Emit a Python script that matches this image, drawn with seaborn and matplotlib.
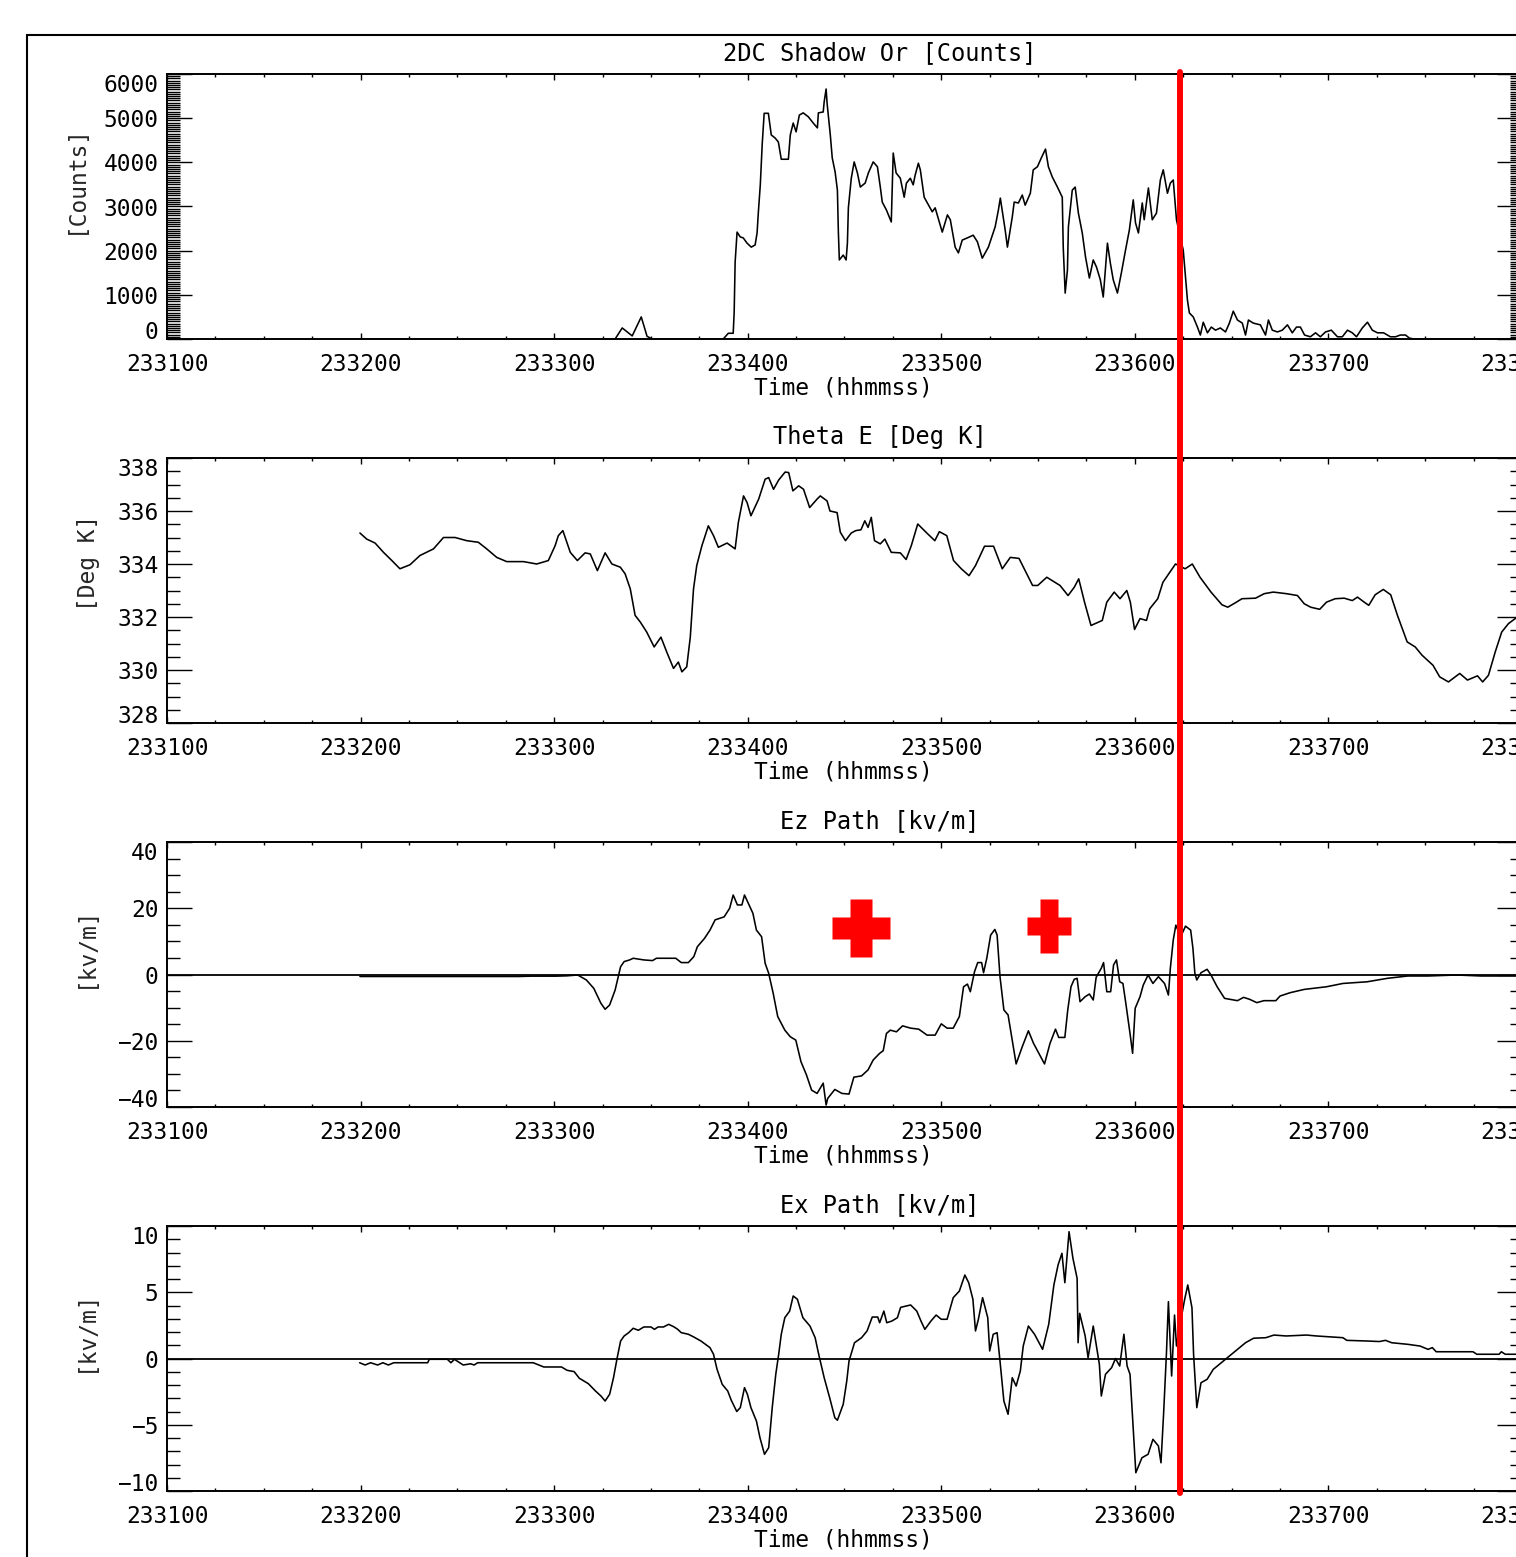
import matplotlib
matplotlib.use("Agg")
import numpy as np
import pandas as pd
import matplotlib.pyplot as plt
import seaborn as sns
from matplotlib.ticker import MultipleLocator, FuncFormatter
from matplotlib.path import Path
from matplotlib.markers import MarkerStyle
from matplotlib.lines import Line2D
from matplotlib.patches import Rectangle

# ---------------- data (time = seconds after 23:31:00) ----------------
t_counts = [60, 135.2, 138.9, 141.1, 144.2, 147.0, 148.8, 150.4, 159.7, 172.4,
            174.0, 175.5, 175.8, 176.1, 176.7, 177.7, 178.6, 179.8, 181.1, 182.3,
            182.9, 183.3, 183.9, 184.5, 185.1, 186.4, 187.3, 188.5, 189.5, 190.4,
            192.6, 193.2, 194.1, 195.0, 196.0, 197.2, 198.8, 200.3, 201.6, 201.9,
            203.4, 203.7, 204.3, 204.6, 205.6, 206.2, 207.1, 207.8, 208.1, 208.4,
            209.6, 210.5, 210.9, 211.2, 212.1, 213.0, 214.0, 214.9, 216.4, 217.4,
            218.9, 220.2, 221.1, 221.7, 223.0, 224.5, 224.8, 225.1, 226.0, 227.3,
            228.5, 229.2, 230.4, 231.3, 231.9, 232.9, 233.5, 234.7, 235.7, 237.2,
            238.1, 240.3, 241.9, 242.8, 244.3, 245.3, 246.5, 248.1, 249.9, 251.2,
            252.7, 254.6, 256.7, 257.7, 258.3, 259.8, 260.5, 262.0, 262.6, 263.9,
            265.1, 266.0, 267.6, 268.5, 269.8, 271.0, 272.3, 273.2, 274.4, 276.0,
            277.5, 277.8, 278.4, 279.1, 279.4, 280.6, 281.5, 282.5, 283.7, 284.7,
            285.9, 287.1, 288.1, 289.3, 290.2, 291.5, 292.4, 293.3, 294.6, 295.8,
            297.1, 298.3, 299.5, 300.2, 301.1, 302.3, 302.9, 304.2, 305.4, 306.7,
            307.9, 308.8, 310.1, 311.0, 311.9, 312.9, 315.0, 315.7, 316.3, 316.9,
            318.1, 319.4, 320.3, 321.2, 322.5, 323.7, 325.0, 326.5, 328.1, 329.3,
            330.5, 331.8, 333.3, 334.3, 335.2, 336.7, 338.9, 340.5, 341.4, 342.6,
            344.2, 345.7, 347.3, 348.8, 350.1, 351.3, 352.6, 354.4, 356.0, 357.5,
            359.1, 360.9, 362.8, 364.3, 365.9, 367.4, 368.7, 370.5, 372.1, 373.6,
            375.2, 377.1, 379.2, 380.8, 382.3, 383.9, 385.1, 386.5, 420]
counts = [0, 0, 0, 250, 70, 500, 60, 0, 0, 0,
          130, 130, 600, 1740, 2420, 2310, 2290, 2170, 2080, 2130,
          2400, 2870, 3490, 4420, 5110, 5110, 4620, 4550, 4460, 4070,
          4070, 4620, 4890, 4690, 5070, 5120, 5030, 4890, 4780, 5120,
          5140, 5370, 5660, 5340, 4620, 4100, 3780, 3370, 2420, 1790,
          1900, 1790, 2170, 2970, 3640, 4010, 3760, 3440, 3530, 3760,
          4010, 3900, 3440, 3100, 2920, 2650, 3420, 4210, 3760, 3640,
          3210, 3530, 3640, 3490, 3710, 3980, 3830, 3210, 3080, 2880,
          2970, 2420, 2810, 2700, 2080, 1950, 2240, 2290, 2350, 2200,
          1830, 2080, 2540, 2920, 3190, 2470, 2080, 2760, 3100, 3080,
          3260, 3030, 3300, 3830, 3900, 4100, 4300, 3900, 3670, 3440,
          3210, 2080, 1040, 1560, 2540, 3370, 3440, 2850, 2400, 1860,
          1380, 1790, 1630, 1340, 950, 2170, 1720, 1340, 1040, 1490,
          2010, 2470, 3150, 2630, 2400, 3080, 2700, 3420, 2700, 2850,
          3600, 3830, 3300, 3530, 3600, 2700, 2010, 1400, 880, 590,
          500, 270, 90, 380, 140, 270, 200, 250, 160, 360,
          630, 430, 360, 90, 430, 360, 320, 90, 430, 200,
          160, 200, 320, 140, 270, 270, 90, 50, 140, 50,
          160, 200, 50, 50, 200, 140, 50, 250, 380, 200,
          140, 140, 50, 50, 90, 90, 20, 0, 0]

t_theta = [59.8, 61.9, 64.5, 67.1, 69.7, 72.2, 75.3, 78.4, 82.6, 85.7,
           89.3, 92.9, 96.5, 99.1, 102.2, 105.3, 110.5, 114.6, 118.2, 120.3,
           121.3, 122.7, 125.0, 127.2, 129.6, 131.2, 133.4, 135.8, 137.9, 140.5,
           142.0, 143.6, 145.1, 146.7, 148.7, 151.0, 153.1, 154.9, 157.0, 158.5,
           159.6, 161.1, 162.2, 163.2, 164.2, 165.8, 167.8, 169.4, 170.9, 173.6,
           176.1, 177.1, 178.7, 179.8, 181.0, 183.4, 185.4, 186.5, 188.0, 189.6,
           191.6, 192.7, 194.0, 195.8, 197.3, 199.2, 201.5, 202.5, 204.6, 205.5,
           207.7, 208.7, 210.3, 212.1, 213.5, 215.1, 216.3, 217.3, 218.3, 219.3,
           221.1, 222.5, 224.5, 227.3, 229.1, 230.7, 232.7, 235.5, 238.0, 239.4,
           241.7, 243.8, 246.2, 248.6, 250.6, 253.4, 256.2, 258.9, 261.4, 264.1,
           266.5, 268.3, 269.9, 272.7, 276.8, 279.3, 281.2, 282.6, 284.4, 286.4,
           289.9, 291.3, 293.6, 295.4, 297.5, 298.6, 299.9, 301.6, 303.6, 304.6,
           307.1, 308.7, 311.2, 312.6, 315.6, 317.8, 320.2, 323.6, 327.0, 328.8,
           331.2, 333.2, 337.4, 340.1, 342.9, 347.0, 350.4, 352.5, 354.5, 357.3,
           359.4, 362.1, 364.9, 367.4, 369.0, 371.1, 372.5, 374.5, 377.0, 379.3,
           381.4, 384.4, 386.9, 389.0, 392.4, 394.5, 397.2, 400.7, 403.1, 406.2,
           407.8, 409.6, 411.7, 413.7, 415.8, 417.9, 420]
theta_e = [335.17, 334.94, 334.79, 334.44, 334.13, 333.82, 333.97, 334.32, 334.57, 335.0,
           335.0, 334.88, 334.82, 334.57, 334.25, 334.09, 334.09, 334.0, 334.13, 334.69,
           335.07, 335.26, 334.44, 334.13, 334.42, 334.38, 333.75, 334.42, 334.0, 333.88,
           333.63, 333.06, 332.06, 331.81, 331.43, 330.87, 331.24, 330.68, 330.06, 330.30,
           329.93, 330.12, 331.24, 333.06, 333.94, 334.69, 335.44, 335.07, 334.63, 334.79,
           334.57, 335.57, 336.57, 336.32, 335.82, 336.45, 337.20, 337.26, 336.82, 337.17,
           337.47, 337.45, 336.76, 336.95, 336.82, 336.13, 336.45, 336.57, 336.38, 336.0,
           335.94, 335.2, 334.88, 335.17, 335.26, 335.29, 335.63, 335.38, 335.76, 334.88,
           334.76, 334.94, 334.44, 334.42, 334.17, 334.69, 335.51, 335.17, 334.88, 335.22,
           335.07, 334.13, 333.82, 333.56, 333.94, 334.67, 334.67, 333.82, 334.25, 334.21,
           333.63, 333.19, 333.19, 333.50, 333.19, 332.81, 333.12, 333.44, 332.56, 331.68,
           331.87, 332.56, 332.94, 332.69, 333.0, 332.56, 331.53, 331.94, 331.87, 332.31,
           332.69, 333.31, 333.75, 334.0, 333.82, 334.0, 333.50, 332.94, 332.46, 332.37,
           332.54, 332.69, 332.71, 332.88, 332.94, 332.88, 332.81, 332.50, 332.37, 332.29,
           332.56, 332.69, 332.71, 332.62, 332.75, 332.56, 332.44, 332.84, 333.04, 332.84,
           332.06, 331.06, 330.87, 330.56, 330.18, 329.74, 329.55, 329.87, 329.62, 329.78,
           329.55, 329.80, 330.68, 331.43, 331.75, 331.94, 332.1]

t_ez = [59.8, 109.0, 112.9, 120.6, 124.0, 127.3, 130.0, 132.3, 134.5, 135.8,
        137.2, 138.9, 140.0, 140.6, 141.7, 143.4, 144.5, 147.8, 150.5, 151.7,
        153.9, 157.7, 159.4, 161.6, 163.3, 164.4, 166.6, 168.3, 169.9, 172.7,
        174.4, 175.5, 176.8, 178.2, 179.0, 180.4, 181.6, 182.7, 184.3, 185.4,
        186.5, 187.9, 189.3, 191.5, 193.2, 194.9, 196.5, 198.2, 199.8, 201.5,
        203.4, 204.3, 204.8, 207.0, 209.2, 211.4, 212.9, 215.3, 217.3, 218.9,
        220.9, 222.0, 223.0, 224.2, 226.1, 228.0, 230.5, 233.0, 235.6, 238.1,
        240.0, 241.8, 243.7, 245.6, 246.9, 248.1, 249.0, 250.3, 251.3, 252.5,
        253.1, 254.1, 255.3, 256.6, 257.3, 258.2, 259.4, 260.7, 262.0, 263.2,
        265.1, 267.0, 268.6, 270.8, 272.0, 273.7, 275.4, 276.4, 278.3, 279.2,
        280.2, 281.2, 282.1, 283.0, 284.6, 285.9, 287.1, 288.0, 289.6, 290.3,
        291.3, 292.5, 293.4, 294.3, 295.3, 296.3, 297.2, 298.5, 299.3, 300.1,
        301.6, 302.6, 304.1, 305.6, 307.3, 309.2, 310.4, 311.0, 311.9, 312.7,
        314.2, 315.7, 317.3, 318.0, 318.6, 319.2, 320.5, 322.4, 323.6, 325.5,
        327.8, 331.8, 333.7, 335.6, 337.8, 340.0, 343.7, 345.0, 348.1, 352.5,
        359.4, 364.5, 372.0, 378.3, 384.6, 390.9, 399.7, 407.3, 420]
ez = [-0.6, -0.6, -0.5, -0.5, -0.4, -0.15, -1.66, -4.2, -8.7, -10.5,
      -9.2, -4.7, -0.15, 2.36, 3.9, 4.4, 4.9, 4.4, 4.2, 4.9,
      4.9, 4.9, 3.6, 3.6, 5.4, 8.4, 10.9, 13.4, 16.5, 17.4,
      20.0, 24.0, 21.0, 21.0, 24.0, 21.0, 18.5, 13.4, 11.4, 3.4,
      0.36, -5.7, -12.7, -16.8, -18.8, -19.8, -26.3, -30.3, -34.9, -35.9,
      -32.8, -39.4, -37.4, -34.7, -35.9, -36.1, -31.0, -30.6, -28.8, -25.8,
      -23.8, -23.0, -17.8, -16.8, -17.3, -15.5, -16.2, -16.5, -18.3, -18.3,
      -14.9, -16.2, -16.2, -12.7, -3.7, -2.9, -5.2, 0.85, 3.6, 3.6,
      0.54, 4.9, 11.9, 13.6, 11.9, -0.66, -10.7, -12.2, -19.8, -27.0,
      -21.8, -17.0, -20.8, -24.8, -27.0, -20.8, -16.5, -19.0, -19.0, -10.7,
      -3.7, -1.45, -1.15, -8.2, -6.7, -5.9, -7.7, -0.85, 1.9, 3.6,
      -5.2, -5.2, 2.9, 4.4, -2.2, -2.7, -8.7, -17.8, -23.8, -10.2,
      -6.7, -3.2, -0.15, -2.7, -0.66, -2.7, -6.2, 1.9, 10.4, 14.9,
      11.4, 14.6, 13.4, 7.9, 0.36, -1.66, 0.54, 1.57, -0.15, -3.7,
      -7.2, -7.9, -6.9, -7.5, -8.5, -7.9, -7.9, -6.5, -5.5, -4.5,
      -3.7, -2.7, -2.2, -1.15, -0.45, -0.45, -0.15, -0.45, -0.45]

t_ex = [59.7, 61.4, 63.1, 65.3, 66.9, 68.6, 70.3, 80.8, 81.3, 86.9,
        88.0, 89.1, 91.8, 94.1, 95.2, 96.3, 113.5, 116.8, 122.3, 124.0,
        126.2, 127.8, 130.6, 132.8, 134.5, 135.8, 137.2, 138.4, 139.5, 140.6,
        141.7, 143.1, 144.5, 146.1, 147.8, 150.0, 151.1, 152.2, 153.9, 155.5,
        157.2, 158.3, 159.4, 161.6, 163.3, 165.5, 168.3, 169.4, 170.5, 172.1,
        173.8, 174.9, 176.6, 177.7, 179.0, 179.9, 181.0, 182.7, 183.8, 185.2,
        186.5, 187.6, 188.7, 189.6, 190.4, 191.5, 193.0, 194.1, 195.4, 197.1,
        199.3, 200.9, 202.0, 203.7, 205.4, 207.0, 207.8, 209.6, 210.7, 211.4,
        213.1, 215.3, 217.0, 218.6, 220.3, 220.9, 222.2, 223.1, 224.7, 226.4,
        227.4, 230.5, 232.4, 233.7, 234.9, 236.8, 238.4, 240.0, 241.8, 243.7,
        245.6, 247.3, 248.5, 249.8, 250.6, 251.5, 252.8, 253.6, 254.4, 255.0,
        256.1, 257.3, 258.2, 259.4, 260.7, 262.0, 263.2, 264.5, 265.4, 267.0,
        268.9, 271.4, 273.3, 274.9, 276.2, 277.4, 278.3, 279.6, 280.8, 282.1,
        282.4, 282.9, 284.6, 285.5, 287.1, 289.0, 289.6, 290.9, 292.8, 294.0,
        295.3, 296.6, 297.6, 298.5, 299.7, 300.3, 302.2, 304.1, 305.6, 307.3,
        308.1, 308.9, 309.8, 310.4, 311.4, 312.3, 312.9, 314.2, 315.4, 316.4,
        317.7, 318.2, 319.2, 320.5, 322.4, 324.3, 326.8, 329.3, 331.8, 334.3,
        336.8, 340.6, 343.1, 346.9, 353.2, 356.3, 364.5, 365.7, 372.0, 375.8,
        377.7, 379.6, 384.6, 388.4, 390.9, 392.2, 393.4, 404.8, 406.0, 412.9,
        413.6, 414.8, 420]
ex = [-0.32, -0.49, -0.32, -0.49, -0.32, -0.49, -0.32, -0.32, -0.06, -0.06,
      -0.32, -0.06, -0.49, -0.4, -0.49, -0.32, -0.32, -0.64, -0.64, -0.89,
      -0.99, -1.49, -1.9, -2.45, -2.83, -3.21, -2.7, -1.45, 0.0, 1.32,
      1.7, 1.95, 2.28, 2.13, 2.38, 2.38, 2.2, 2.38, 2.38, 2.58,
      2.38, 2.2, 1.95, 1.83, 1.62, 1.32, 0.82, 0.32, -0.82, -1.95,
      -2.45, -3.15, -4.0, -3.71, -2.2, -2.7, -3.71, -4.72, -5.98, -7.23,
      -6.73, -3.71, -1.19, 0.32, 1.83, 3.08, 3.58, 4.72, 4.47, 3.08,
      2.45, 1.57, 0.32, -1.45, -2.96, -4.47, -4.66, -3.46, -1.7, -0.19,
      1.19, 1.57, 2.08, 3.13, 3.13, 2.7, 3.58, 2.7, 2.83, 3.08,
      3.86, 4.04, 3.58, 2.83, 2.2, 2.83, 3.28, 2.96, 2.96, 4.59,
      5.09, 6.3, 5.72, 4.47, 2.08, 2.96, 4.59, 3.83, 3.08, 0.57,
      1.83, 1.95, -0.19, -3.21, -4.21, -1.45, -2.08, -0.94, 0.94, 2.45,
      1.83, 0.69, 2.58, 5.55, 7.06, 7.94, 5.72, 9.57, 7.57, 6.05,
      1.19, 3.41, 1.7, 0.06, 2.45, -0.44, -2.83, -1.19, -0.69, 0.0,
      -0.57, 1.83, -0.57, -1.19, -6.23, -8.62, -7.49, -7.23, -6.1, -6.6,
      -7.87, -4.21, 0.44, 4.29, -1.32, 3.28, 0.94, 2.83, 4.42, 5.55,
      3.83, 0.32, -3.71, -1.83, -1.57, -0.82, -0.32, 0.19, 0.69, 1.19,
      1.53, 1.57, 1.77, 1.7, 1.77, 1.7, 1.57, 1.37, 1.32, 1.28,
      1.37, 1.19, 1.07, 0.94, 0.69, 0.82, 0.51, 0.51, 0.32, 0.32,
      0.51, 0.32, 0.32]

titles = ["2DC Shadow Or [Counts]", "Theta E [Deg K]", "Ez Path [kv/m]", "Ex Path [kv/m]"]
ylabels = ["[Counts]", "[Deg K]", "[kv/m]", "[kv/m]"]
yticks_list = [[0, 1000, 2000, 3000, 4000, 5000, 6000],
               [328, 330, 332, 334, 336, 338],
               [-40, -20, 0, 20, 40],
               [-10, -5, 0, 5, 10]]
yminor_list = [50, 0.5, 5, 1]
xtick_seconds = [0, 60, 120, 180, 240, 300, 360, 420]
x_label = "Time (hhmmss)"
marker_time = 314.1                 # red vertical marker (23:36:14)
cross_t = [215.2, 273.5]            # red "+" symbols in Ez panel
cross_v = [13.9, 14.5]

# ---------------- style ----------------
sns.set_theme(style="white")
plt.rcParams['font.family'] = ['DejaVu Sans Mono', 'DejaVu Sans']
plt.rcParams['axes.unicode_minus'] = True

W, H = 1516, 1557
fig = plt.figure(figsize=(W / 100, H / 100), dpi=100)
fig.patch.set_facecolor("white")

left = 167 / W
width = 1355 / W
height = 265 / H
bottoms_px = [339, 723, 1107, 1491]
ylabel_x = [-0.0679, -0.0583, -0.0605, -0.0605]

series = [(t_counts, counts), (t_theta, theta_e), (t_ez, ez), (t_ex, ex)]
FS = 16.5

def fmt_time(v, pos):
    return f"{233100 + int(round(v / 60)) * 100}"

axes = []
for i, (tt, vv) in enumerate(series):
    ax = fig.add_axes([left, 1 - bottoms_px[i] / H, width, height])
    axes.append(ax)
    df = pd.DataFrame({"t": tt, "v": vv})
    if i >= 2:
        ax.axhline(0, color="black", lw=1.3, zorder=1)
    sns.lineplot(data=df, x="t", y="v", ax=ax, color="black", lw=1.15,
                 estimator=None, sort=False, zorder=2)
    ax.set_xlim(0, 420)
    yt = yticks_list[i]
    ax.set_ylim(yt[0], yt[-1])
    ax.set_xticks(xtick_seconds)
    ax.xaxis.set_minor_locator(MultipleLocator(15))
    ax.xaxis.set_major_formatter(FuncFormatter(fmt_time))
    ax.set_yticks(yt)
    ax.yaxis.set_minor_locator(MultipleLocator(yminor_list[i]))
    ax.tick_params(axis="both", which="both", direction="in",
                   top=True, right=True, bottom=True, left=True,
                   labelsize=FS, colors="black", width=1.0)
    ax.tick_params(axis="x", which="major", length=4.5, pad=10)
    ax.tick_params(axis="x", which="minor", length=2.5)
    ax.tick_params(axis="y", which="major", length=18, pad=6)
    ax.tick_params(axis="y", which="minor", length=9)
    for sp in ax.spines.values():
        sp.set_linewidth(1.4)
        sp.set_color("black")
    ax.set_xlabel("")
    ax.set_ylabel(ylabels[i], fontsize=FS)
    ax.yaxis.label.set_va("center")
    ax.yaxis.set_label_coords(ylabel_x[i], 0.604)
    labs = ax.get_yticklabels()
    labs[0].set_va("baseline")
    labs[-1].set_va("top")
    ax.text(0.5262, 1.079, titles[i], transform=ax.transAxes, ha="center",
            va="center", fontsize=FS + 0.5, color="black")
    ax.text(0.4989, -0.185, x_label, transform=ax.transAxes, ha="center",
            va="center", fontsize=FS, color="black")
    ax.set_facecolor("white")

# red plus markers in Ez panel
def plus_path(w, h, a):
    verts = [(-a, h), (a, h), (a, a), (w, a), (w, -a), (a, -a), (a, -h),
             (-a, -h), (-a, -a), (-w, -a), (-w, a), (-a, a), (-a, h)]
    return Path(verts, closed=True)

cross_shapes = [(plus_path(1.0, 1.0, 0.377), 41.4), (plus_path(0.83, 1.0, 0.34), 38.2)]
for (pth, ms), ct, cv in zip(cross_shapes, cross_t, cross_v):
    axes[2].plot([ct], [cv], ls="none", marker=MarkerStyle(pth), ms=ms,
                 color="red", mec="none", zorder=5)

# red vertical line spanning all panels
xd = axes[0].transData.transform((marker_time, 0))[0]
xf = fig.transFigure.inverted().transform((xd, 0))[0]
fig.add_artist(Line2D([xf, xf], [1 - 1493 / H, 1 - 72 / H], color="red", lw=4.3,
                      transform=fig.transFigure, zorder=10))

# outer frame (left and top edges visible)
fig.add_artist(Rectangle((27 / W, -0.2), 2.0, 1.2 - 35 / H, fill=False,
                         edgecolor="black", lw=1.5, transform=fig.transFigure))

fig.savefig("out.png", dpi=100, facecolor="white")
